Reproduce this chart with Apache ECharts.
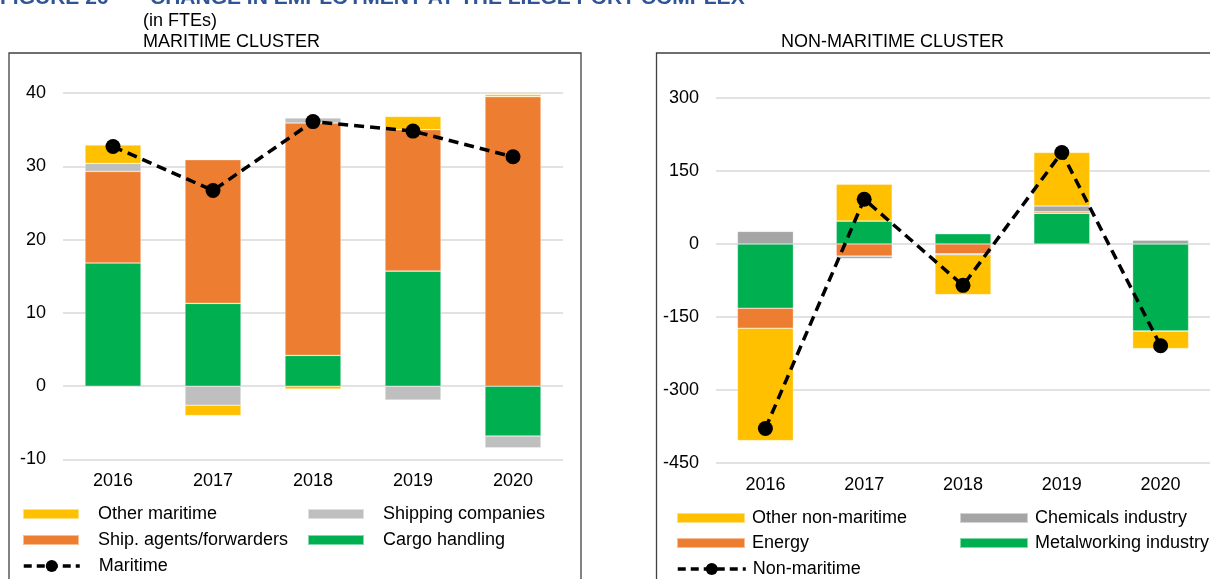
<!DOCTYPE html>
<html>
<head>
<meta charset="utf-8">
<script src="https://cdn.jsdelivr.net/npm/echarts@6/dist/echarts.min.js"></script>
<style>
  html, body { margin: 0; padding: 0; background: #fff; }
  #chart { width: 1210px; height: 579px; }
</style>
</head>
<body>
<div id="chart"></div>
<script>
// categories
const years = ['2016', '2017', '2018', '2019', '2020'];

// maritime cluster (FTEs)
const cargoHandling = [16.8, 11.3, 4.2, 15.7, -6.8];
const shipAgents = [12.5, 19.6, 31.7, 19.3, 39.5];
const shippingCompanies = [1.1, -2.6, 0.7, -1.9, -1.6];
const otherMaritime = [2.5, -1.4, -0.4, 1.8, 0.3];
const maritimeTotal = [32.7, 26.7, 36.1, 34.8, 31.3];

// non-maritime cluster (FTEs)
const metalworking = [-132, 47, 21, 63, -179];
const energy = [-41, -25, -20, 3, 0];
const chemicals = [26, -5, -2, 12, 8];
const otherNonMaritime = [-231, 76, -82, 110, -36];
const nonMaritimeTotal = [-379, 92, -85, 188, -209];

// tick settings
const leftTicks = { min: -10, max: 40, interval: 10 };
const rightTicks = { min: -450, max: 300, interval: 150 };

const FONT = 'Liberation Sans, Arial, sans-serif';
const YELLOW = '#FFC000', ORANGE = '#ED7D31', GREEN = '#00B050';
const GREY_L = '#BFBFBF', GREY_R = '#A5A5A5';

function bar(name, data, color, idx, stack) {
  return {
    name: name, type: 'bar', stack: stack, data: data,
    xAxisIndex: idx, yAxisIndex: idx, barWidth: 56,
    itemStyle: { color: color, borderColor: 'rgba(255,255,255,0.5)', borderWidth: 0.6 },
    emphasis: { disabled: true }
  };
}
function line(name, data, idx) {
  return {
    name: name, type: 'line', data: data, z: 10,
    xAxisIndex: idx, yAxisIndex: idx,
    symbol: 'circle', symbolSize: 15,
    itemStyle: { color: '#000' },
    lineStyle: { color: '#000', width: 3.5, type: [10, 6] },
    emphasis: { disabled: true }
  };
}
function xAx(idx) {
  return {
    type: 'category', gridIndex: idx, data: years,
    axisLine: { show: false }, axisTick: { show: false },
    axisLabel: { margin: 13, fontSize: 18, color: '#000', fontFamily: FONT }
  };
}
function yAx(idx, t) {
  return {
    type: 'value', gridIndex: idx, min: t.min, max: t.max, interval: t.interval,
    axisLine: { show: false }, axisTick: { show: false },
    axisLabel: { margin: 17, fontSize: 18, color: '#000', fontFamily: FONT },
    splitLine: { lineStyle: { color: '#D9D9D9', width: 1.6 } }
  };
}
function legend(left, top, names, w, h, gap, pad) {
  return {
    orient: 'vertical', left: left, top: top,
    data: names.map(function (n) { return { name: n, icon: 'rect' }; }),
    itemWidth: w, itemHeight: h, itemGap: gap, padding: 0,
    selectedMode: false,
    textStyle: { fontSize: 18, color: '#000', fontFamily: FONT, padding: [0, 0, 0, pad] }
  };
}
function lineLegend(left, top, name, w, pad) {
  return {
    left: left, top: top, data: [name],
    itemWidth: w, itemHeight: 15, padding: 0, selectedMode: false,
    lineStyle: { width: 3.5, type: [8, 5] },
    textStyle: { fontSize: 18, color: '#000', fontFamily: FONT, padding: [0, 0, 0, pad] }
  };
}

const chart = echarts.init(document.getElementById('chart'));
chart.setOption({
  animation: false,
  textStyle: { fontFamily: FONT },
  grid: [
    { left: 63, width: 500, top: 93, bottom: 119.5 },
    { left: 716, width: 502, top: 98, bottom: 116 }
  ],
  xAxis: [xAx(0), xAx(1)],
  yAxis: [yAx(0, leftTicks), yAx(1, rightTicks)],
  legend: [
    legend(22, 505, ['Other maritime', 'Ship. agents/forwarders'], 56, 10, 8, 14),
    legend(307, 505, ['Shipping companies', 'Cargo handling'], 56, 10, 8, 14),
    lineLegend(22, 557, 'Maritime', 56, 14),
    legend(676, 509, ['Other non-maritime', 'Energy'], 68, 10, 7, 2),
    legend(959, 509, ['Chemicals industry', 'Metalworking industry'], 68, 10, 7, 2),
    lineLegend(676, 560, 'Non-maritime', 68, 2)
  ],
  graphic: [
    { type: 'rect', shape: { x: 9, y: 53, width: 572, height: 560 }, style: { fill: 'none', stroke: '#404040', lineWidth: 1.3 } },
    { type: 'rect', shape: { x: 656.5, y: 53, width: 620, height: 560 }, style: { fill: 'none', stroke: '#404040', lineWidth: 1.3 } },
    { type: 'text', left: 0, top: -12, style: { text: 'FIGURE 26', font: 'bold 21px ' + FONT, fill: '#2F5597' } },
    { type: 'text', left: 150, top: -12, style: { text: 'CHANGE IN EMPLOYMENT AT THE LIEGE PORT COMPLEX', font: 'bold 21px ' + FONT, fill: '#2F5597' } },
    { type: 'text', left: 143, top: 12, style: { text: '(in FTEs)', font: '18px ' + FONT, fill: '#000' } },
    { type: 'text', left: 143, top: 33, style: { text: 'MARITIME CLUSTER', font: '18px ' + FONT, fill: '#000' } },
    { type: 'text', left: 781, top: 33, style: { text: 'NON-MARITIME CLUSTER', font: '18px ' + FONT, fill: '#000' } }
  ],
  series: [
    bar('Cargo handling', cargoHandling, GREEN, 0, 'm'),
    bar('Ship. agents/forwarders', shipAgents, ORANGE, 0, 'm'),
    bar('Shipping companies', shippingCompanies, GREY_L, 0, 'm'),
    bar('Other maritime', otherMaritime, YELLOW, 0, 'm'),
    line('Maritime', maritimeTotal, 0),
    bar('Metalworking industry', metalworking, GREEN, 1, 'n'),
    bar('Energy', energy, ORANGE, 1, 'n'),
    bar('Chemicals industry', chemicals, GREY_R, 1, 'n'),
    bar('Other non-maritime', otherNonMaritime, YELLOW, 1, 'n'),
    line('Non-maritime', nonMaritimeTotal, 1)
  ]
});
</script>
</body>
</html>
